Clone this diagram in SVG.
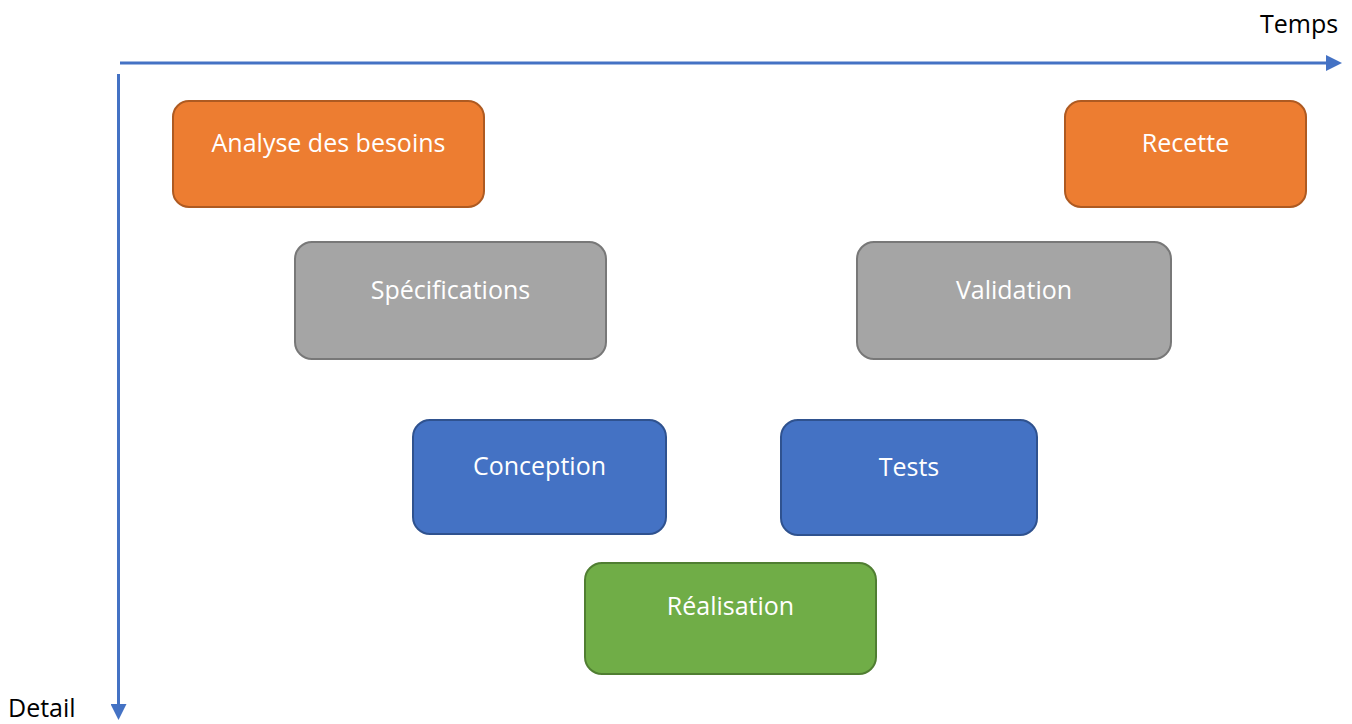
<svg xmlns="http://www.w3.org/2000/svg" width="1352" height="724" viewBox="0 0 1352 724">
<style>
.box{stroke-width:2}
.orange{fill:#ED7D31;stroke:#AE5A21}
.gray{fill:#A5A5A5;stroke:#787878}
.blue{fill:#4472C4;stroke:#2F528F}
.green{fill:#70AD47;stroke:#507E32}
.lbl{font-family:"Open Sans","Noto Sans",sans-serif;font-size:25px;fill:#FFFFFF;text-anchor:middle}
.axl{font-family:"Open Sans","Noto Sans",sans-serif;font-size:25px;fill:#000000}
.axis{stroke:#4472C4;stroke-width:3;fill:none}
</style>
<defs>
<marker id="ah" viewBox="0 0 10 10" refX="0" refY="5" markerWidth="16" markerHeight="16" markerUnits="userSpaceOnUse" orient="auto">
<path d="M0,0 L10,5 L0,10 Z" fill="#4472C4"/>
</marker>
</defs>
<g id="connectors">
<line class="axis" x1="120" y1="63" x2="1326" y2="63" marker-end="url(#ah)"/>
<line class="axis" x1="118.5" y1="74" x2="118.5" y2="704" marker-end="url(#ah)"/>
</g>
<text class="axl" x="1260" y="33">Temps</text>
<text class="axl" x="8" y="717">Detail</text>
<g id="analyse">
<rect class="box orange" x="173" y="101" width="311" height="106" rx="16"/>
<text class="lbl" x="328.5" y="152">Analyse des besoins</text>
</g>
<g id="recette">
<rect class="box orange" x="1065" y="101" width="241" height="106" rx="16"/>
<text class="lbl" x="1185.5" y="152">Recette</text>
</g>
<g id="specifications">
<rect class="box gray" x="295" y="242" width="311" height="117" rx="17"/>
<text class="lbl" x="450.5" y="299">Spécifications</text>
</g>
<g id="validation">
<rect class="box gray" x="857" y="242" width="314" height="117" rx="17"/>
<text class="lbl" x="1014" y="299">Validation</text>
</g>
<g id="conception">
<rect class="box blue" x="413" y="420" width="253" height="114" rx="17"/>
<text class="lbl" x="539.5" y="475">Conception</text>
</g>
<g id="tests">
<rect class="box blue" x="781" y="420" width="256" height="115" rx="17"/>
<text class="lbl" x="909" y="476">Tests</text>
</g>
<g id="realisation">
<rect class="box green" x="585" y="563" width="291" height="111" rx="17"/>
<text class="lbl" x="730.5" y="615">Réalisation</text>
</g>
</svg>
